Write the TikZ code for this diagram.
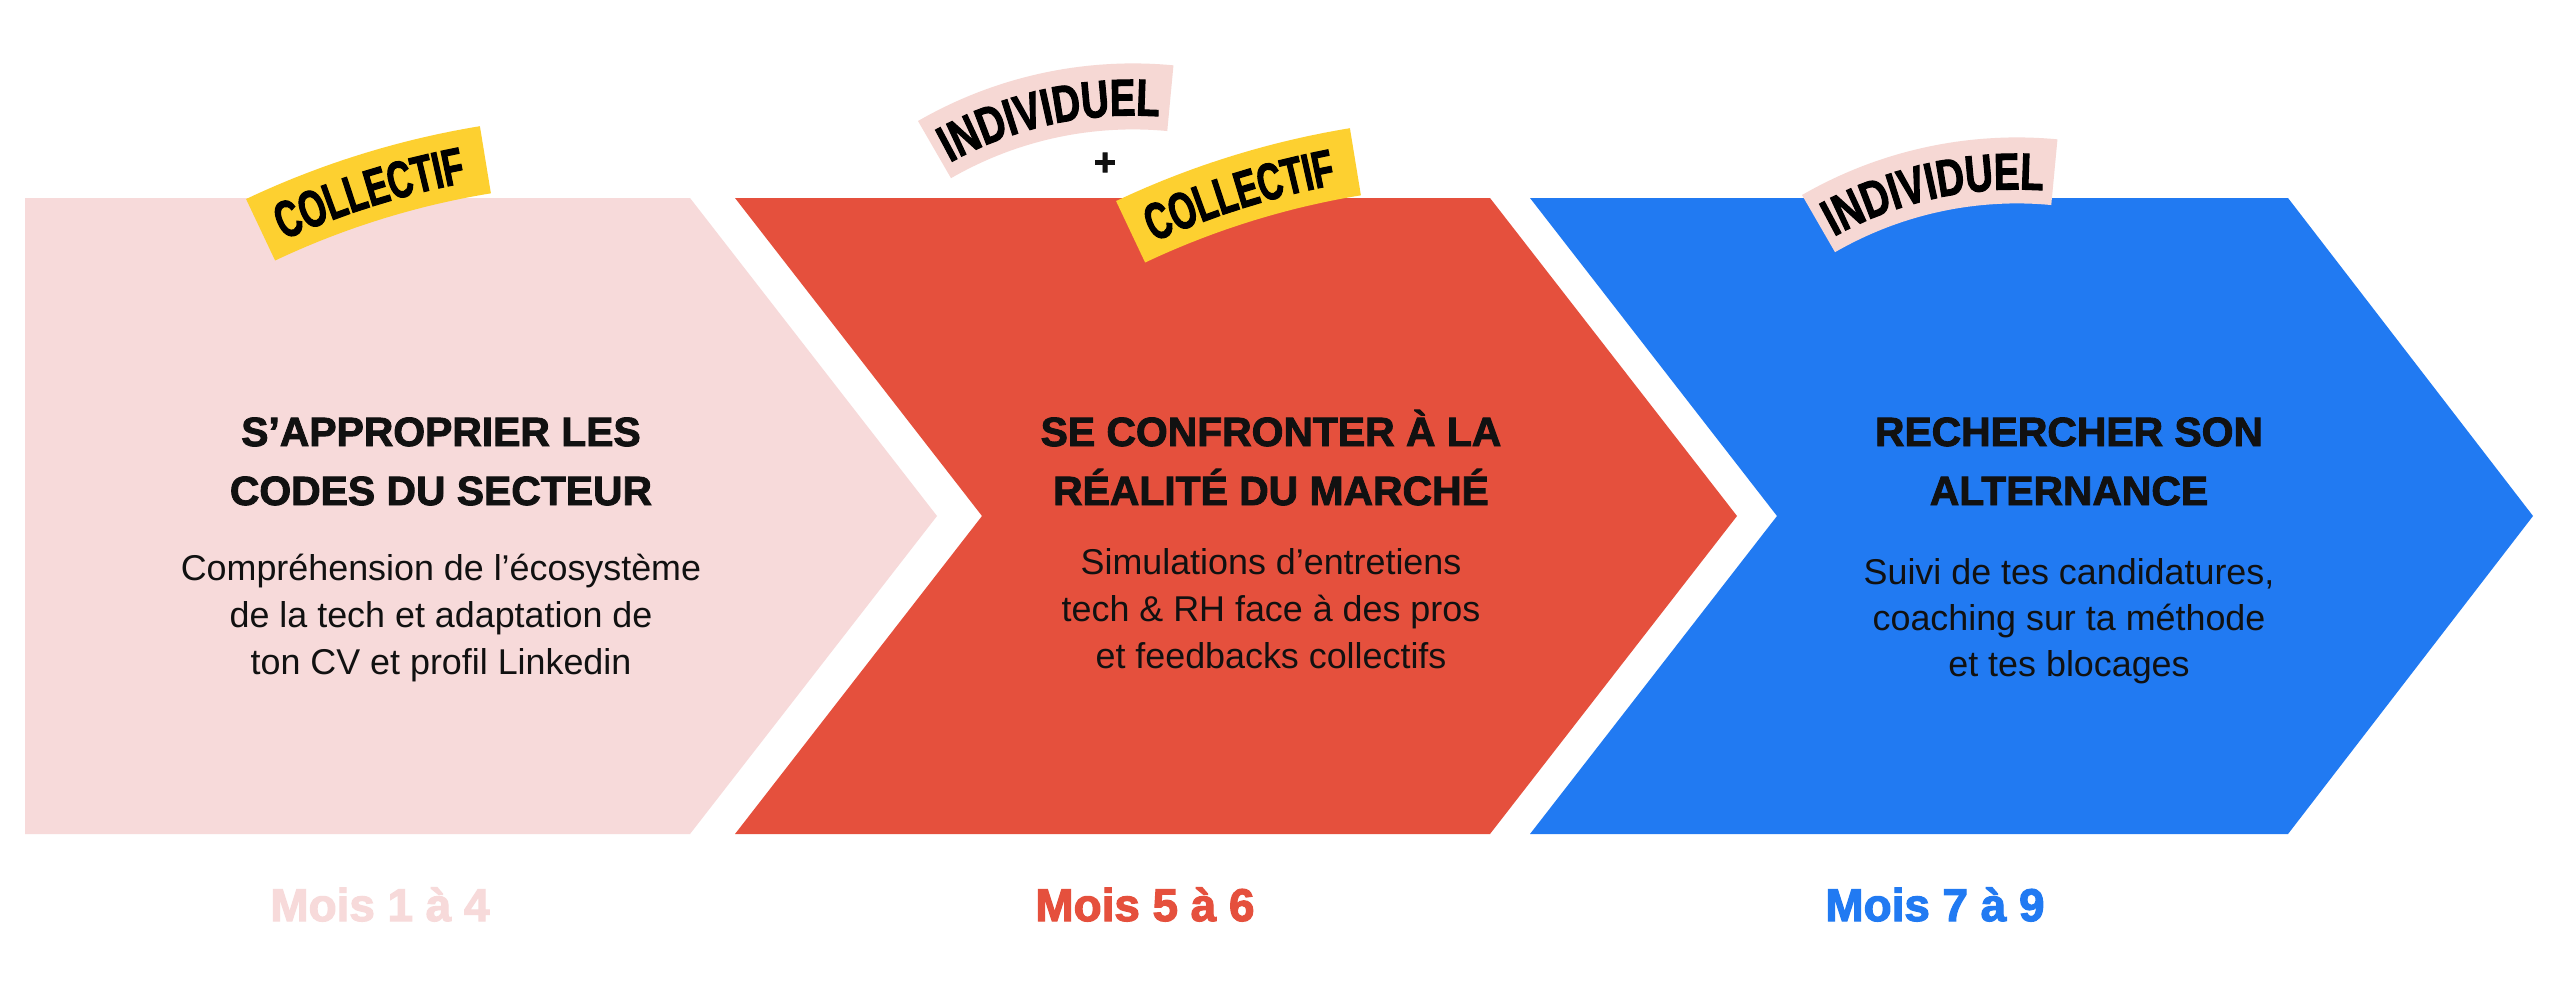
\documentclass[tikz,border=0pt]{standalone}
\usepackage{fontspec}
\setmainfont{Liberation Sans}
\newfontfamily\headfont[FakeBold=2.2]{Liberation Sans}
\newfontfamily\moisfont[FakeBold=2.6]{Liberation Sans}
\newfontfamily\tagfontA[FakeStretch=0.66,FakeBold=2]{Liberation Sans}
\newfontfamily\tagfontB[FakeStretch=0.74,FakeBold=2]{Liberation Sans}
\usetikzlibrary{decorations.text}
\definecolor{cpink}{HTML}{F7DADA}
\definecolor{cred}{HTML}{E5503D}
\definecolor{cblue}{HTML}{217AF2}
\definecolor{cyellow}{HTML}{FDD030}
\definecolor{ctag}{HTML}{F6D8D4}
\definecolor{cink}{HTML}{111111}
\newcommand\yellowtag[2]{%
  \fill[cyellow] plot[domain=244.7:260.7, samples=30] ({#1+880*cos(\x)},{#2+880*sin(\x)})
     -- plot[domain=260.7:244.7, samples=30] ({#1+812*cos(\x)},{#2+812*sin(\x)}) -- cycle;
  \path[decorate, decoration={text along path, text align=center,
     text={|\tagfontA\bfseries\fontsize{52}{52}\selectfont|COLLECTIF}}]
     plot[domain=240:265, samples=40] ({#1+827*cos(\x)},{#2+827*sin(\x)});
}
\newcommand\pinktag[2]{%
  \fill[ctag] plot[domain=240:275.4, samples=40] ({#1+430*cos(\x)},{#2+430*sin(\x)})
     -- plot[domain=275.4:240, samples=40] ({#1+364*cos(\x)},{#2+364*sin(\x)}) -- cycle;
  \path[decorate, decoration={text along path, text align=center,
     text={|\tagfontB\bfseries\fontsize{52}{52}\selectfont|INDIVIDUEL}}]
     plot[domain=232:283, samples=50] ({#1+378*cos(\x)},{#2+378*sin(\x)});
}
\begin{document}
\begin{tikzpicture}[x=1bp,y=-1bp,
  heading/.style={font=\headfont\bfseries\fontsize{41}{41}\selectfont, text=cink, anchor=base, inner sep=0pt},
  body/.style={font=\fontsize{36}{36}\selectfont, text=cink, anchor=base, inner sep=0pt},
  mois/.style={font=\moisfont\bfseries\fontsize{46}{46}\selectfont, anchor=base, inner sep=0pt},
]
\useasboundingbox (0,0) rectangle (2560,987);
\fill[white] (0,0) rectangle (2560,987);

% panels
\fill[cpink] (25,198) -- (690,198) -- (937,516) -- (690,834) -- (25,834) -- cycle;
\fill[cred] (735,198) -- (1490,198) -- (1737,516) -- (1490,834) -- (735,834) -- (982,516) -- cycle;
\fill[cblue] (1530,198) -- (2288,198) -- (2533,516) -- (2288,834) -- (1530,834) -- (1777,516) -- cycle;

% tags
\yellowtag{622.1}{994.6}
\pinktag{1133}{493.4}
\node[font=\headfont\bfseries\fontsize{38}{38}\selectfont, text=cink, inner sep=0pt] (plus) at (1105,164) {+};
\yellowtag{1492.1}{996.6}
\pinktag{2017}{567.4}

% panel 1
\node[heading] (h1a) at (441,446) {S’APPROPRIER LES};
\node[heading] (h1b) at (441,505) {CODES DU SECTEUR};
\node[body] (b1a) at (441,580) {Compréhension de l’écosystème};
\node[body] (b1b) at (441,627) {de la tech et adaptation de};
\node[body] (b1c) at (441,674) {ton CV et profil Linkedin};

% panel 2
\node[heading] (h2a) at (1271,446) {SE CONFRONTER À LA};
\node[heading] (h2b) at (1271,505) {RÉALITÉ DU MARCHÉ};
\node[body] (b2a) at (1271,574) {Simulations d’entretiens};
\node[body] (b2b) at (1271,621) {tech \& RH face à des pros};
\node[body] (b2c) at (1271,668) {et feedbacks collectifs};

% panel 3
\node[heading] (h3a) at (2069,446) {RECHERCHER SON};
\node[heading] (h3b) at (2069,505) {ALTERNANCE};
\node[body] (b3a) at (2069,584) {Suivi de tes candidatures,};
\node[body] (b3b) at (2069,630) {coaching sur ta méthode};
\node[body] (b3c) at (2069,676) {et tes blocages};

% months
\node[mois, text=cpink] (m1) at (380,921) {Mois 1 à 4};
\node[mois, text=cred] (m2) at (1145,921) {Mois 5 à 6};
\node[mois, text=cblue] (m3) at (1935,921) {Mois 7 à 9};
\end{tikzpicture}
\end{document}
